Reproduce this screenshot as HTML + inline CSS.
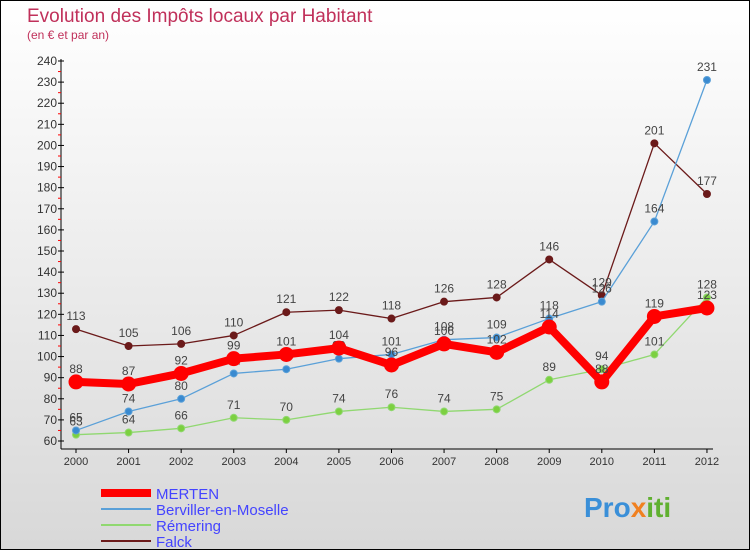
<!DOCTYPE html>
<html><head><meta charset="utf-8"><style>
body{margin:0}
#c{width:748px;height:548px;border:1px solid #000;background:linear-gradient(#fff,#d8d8d8);position:relative;overflow:hidden;font-family:"Liberation Sans",sans-serif}
</style></head><body>
<div id="c">
<svg id="s" width="748" height="548" xmlns="http://www.w3.org/2000/svg" font-family="Liberation Sans, sans-serif">
<text x="26" y="21" font-size="19" fill="#c0305a">Evolution des Impôts locaux par Habitant</text>
<text x="26" y="38" font-size="12" fill="#c0305a">(en € et par an)</text>
<g id="axes"></g><g id="series"></g><g id="legend"></g>
<text x="583" y="516" font-size="28" font-weight="bold" fill="#3a8fd8">Pro<tspan fill="#f08020">x</tspan><tspan fill="#60b030">iti</tspan></text>
</svg>
</div>
<script>
const years=["2000","2001","2002","2003","2004","2005","2006","2007","2008","2009","2010","2011","2012"];
const merten=[88,87,92,99,101,104,96,106,102,114,88,119,123];
const berviller=[65,74,80,92,94,99,101,108,109,118,126,164,231];
const remering=[63,64,66,71,70,74,76,74,75,89,94,101,128];
const falck=[113,105,106,110,121,122,118,126,128,146,129,201,177];
const yTicks=[60,70,80,90,100,110,120,130,140,150,160,170,180,190,200,210,220,230,240];
const names=["MERTEN","Berviller-en-Moselle","Rémering","Falck"];
const NS="http://www.w3.org/2000/svg";
const X=i=>75+i*52.58, Y=v=>440-(v-60)*380/180;
function mk(t,a,p){const e=document.createElementNS(NS,t);for(const k in a)e.setAttribute(k,a[k]);p.appendChild(e);return e;}
const ax=document.getElementById('axes');
let l=mk('line',{x1:60,y1:58,x2:60,y2:448,stroke:'#000'},ax);

l=mk('line',{x1:60,y1:448,x2:712,y2:448,stroke:'#000'},ax);

yTicks.forEach(v=>{const y=Y(v);
 mk('line',{x1:57,y1:y,x2:63,y2:y,stroke:'#000'},ax);
 if(v<240)mk('line',{x1:57,y1:Y(v+5),x2:60,y2:Y(v+5),stroke:'#f00'},ax);
 const t=mk('text',{x:56,y:y+4,'font-size':12,fill:'#333','text-anchor':'end'},ax);t.textContent=v;
 });
years.forEach((yr,i)=>{mk('line',{x1:X(i),y1:448,x2:X(i),y2:452,stroke:'#000'},ax);
 const t=mk('text',{x:X(i),y:464,'font-size':11,fill:'#333','text-anchor':'middle'},ax);t.textContent=yr;
 });
const sg=document.getElementById('series');
function draw(d,col,dot,w,r,name){const g=mk('g',{},sg);
 
 mk('polyline',{points:d.map((v,i)=>X(i)+','+Y(v)).join(' '),fill:'none',stroke:col,'stroke-width':w,'stroke-linejoin':'round'},g);
 d.forEach((v,i)=>{const c=mk('circle',{cx:X(i),cy:Y(v),r:r,fill:dot,stroke:col,'stroke-width':1},g);
  
  const t=mk('text',{x:X(i),y:Y(v)-9,'font-size':12,fill:'#444','text-anchor':'middle'},g);t.textContent=v;});}
draw(falck,'#6b1a1a','#6b1a1a',1.3,3.5,'falck-series');
draw(remering,'#90d870','#7cd040',1.3,3.5,'remering-series');
draw(berviller,'#5aa0d8','#3a8ad0',1.3,3.5,'berviller-series');
draw(merten,'#f00','#f00',8,7,'merten-series');
const lg=document.getElementById('legend');
const lc=['#f00','#5aa0d8','#90d870','#6b1a1a'],lw=[8,2,2,2];
names.forEach((n,i)=>{const y=492+i*16;const g=mk('g',{},lg);
 
 mk('line',{x1:100,y1:y,x2:150,y2:y,stroke:lc[i],'stroke-width':lw[i]},g);
 const t=mk('text',{x:155,y:y+6,'font-size':15,fill:'#4444ff'},g);t.textContent=n;});
</script>
</body></html>
